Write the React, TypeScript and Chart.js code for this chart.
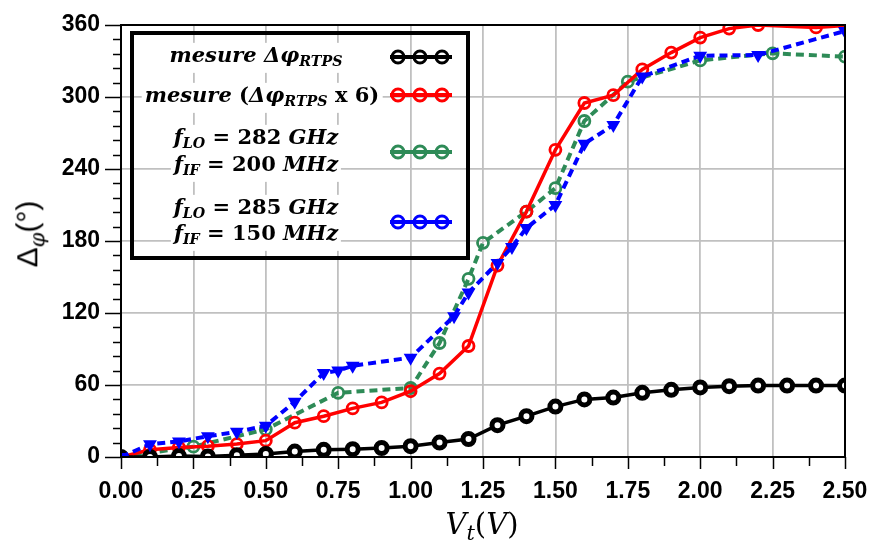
import React, { useEffect, useRef } from "react";
import { Chart, registerables } from "chart.js";
Chart.register(...registerables);

// ---- data ----
const blackX = [0, 0.1, 0.2, 0.3, 0.4, 0.5, 0.6, 0.7, 0.8, 0.9, 1.0, 1.1, 1.2, 1.3, 1.4, 1.5, 1.6, 1.7, 1.8, 1.9, 2.0, 2.1, 2.2, 2.3, 2.4, 2.5];
const blackY = [0, 0, 0.8, 0.5, 1.5, 2.5, 4.5, 6, 6.5, 7.5, 9, 12, 15, 26.5, 34, 42, 48, 49.5, 53.5, 56, 58, 59, 59.5, 59.5, 59.5, 59.5];

const redX = [0, 0.1, 0.2, 0.3, 0.4, 0.5, 0.6, 0.7, 0.8, 0.9, 1.0, 1.1, 1.2, 1.3, 1.4, 1.5, 1.6, 1.7, 1.8, 1.9, 2.0, 2.1, 2.2, 2.4, 2.5];
const redY = [0, 6, 8, 9, 10.8, 13.6, 28.6, 34, 40.5, 45.5, 54.8, 69.5, 92.5, 159.5, 204.5, 256, 295, 301.5, 323, 337, 349.5, 357, 360, 358, 359.5];

const greenX = [0, 0.25, 0.5, 0.75, 1.0, 1.1, 1.2, 1.25, 1.4, 1.5, 1.6, 1.75, 2.0, 2.25, 2.5];
const greenY = [0, 8.6, 23, 53.5, 57.5, 95, 148.5, 178.5, 204.5, 224, 280, 312.8, 330.5, 336.4, 333.6];

const blueX = [0, 0.1, 0.2, 0.3, 0.4, 0.5, 0.6, 0.7, 0.75, 0.8, 1.0, 1.15, 1.2, 1.3, 1.35, 1.4, 1.5, 1.6, 1.7, 1.8, 2.0, 2.2, 2.5];
const blueY = [0, 10.7, 13, 17.3, 21, 26, 46, 70, 72, 76, 82.8, 117.3, 137, 161.7, 175, 190.8, 210, 261, 276.7, 317, 334.4, 335, 355];

const xMin = 0, xMax = 2.5, xStep = 0.125, xMajor = 0.25;
const yMin = 0, yMax = 360, yStep = 12, yMajor = 60;

const pts = (xs: number[], ys: number[]) => xs.map((x, i) => ({ x, y: ys[i] }));
const isMult = (v: number, m: number) => Math.abs(v / m - Math.round(v / m)) < 1e-6;

const GREEN = "#2e8b57";

const framePlugin = {
  id: "frame",
  afterDraw(chart: any) {
    const { ctx, chartArea: a, scales } = chart;
    ctx.save();
    ctx.strokeStyle = "#000";
    ctx.lineWidth = 2;
    ctx.strokeRect(a.left, a.top, a.right - a.left, a.bottom - a.top);
    ctx.lineWidth = 1.5;
    for (const t of scales.y.ticks) {
      const py = Math.round(scales.y.getPixelForValue(t.value)) + 0.5;
      const major = isMult(t.value, yMajor);
      ctx.beginPath();
      ctx.moveTo(a.left, py);
      ctx.lineTo(a.left - (major ? 16 : 8), py);
      ctx.stroke();
    }
    for (const t of scales.x.ticks) {
      const px = Math.round(scales.x.getPixelForValue(t.value)) + 0.5;
      const major = isMult(t.value, xMajor);
      ctx.beginPath();
      ctx.moveTo(px, a.bottom);
      ctx.lineTo(px, a.bottom + (major ? 12 : 9));
      ctx.stroke();
    }
    ctx.restore();
  },
};

function LegendMark({ color, y }: { color: string; y: number }) {
  return (
    <svg style={{ position: "absolute", left: 388, top: y - 9, overflow: "visible" }} width={66} height={18}>
      <line x1={2} y1={9} x2={64} y2={9} stroke={color} strokeWidth={4} />
      {[10, 32, 54].map((cx) => (
        <circle key={cx} cx={cx} cy={9} r={6} fill="none" stroke={color} strokeWidth={3} />
      ))}
    </svg>
  );
}

const legFont: React.CSSProperties = {
  position: "absolute",
  fontFamily: "'DejaVu Serif', serif",
  fontWeight: "bold",
  fontStyle: "italic",
  fontSize: 21,
  lineHeight: "24px",
  whiteSpace: "nowrap",
  transform: "translate(-50%, -50%)",
  background: "#fff",
  padding: "0 3px",
  color: "#000",
};
const sub: React.CSSProperties = { fontSize: "0.68em", verticalAlign: "-0.3em" };
const up: React.CSSProperties = { fontStyle: "normal" };

export default function App() {
  const ref = useRef<HTMLCanvasElement>(null);
  useEffect(() => {
    document.body.style.margin = "0";
    const mk = (label: string, xs: number[], ys: number[], color: string, extra: any) => ({
      label,
      data: pts(xs, ys),
      borderColor: color,
      pointBorderColor: color,
      ...extra,
    });
    const zeroPad = (s: any) => {
      s.paddingLeft = 0;
      s.paddingRight = 0;
      s.paddingTop = 0;
      s.paddingBottom = 0;
    };
    const tickFont = { family: "'Liberation Sans', Arial, sans-serif", weight: "bold" as const, size: 23 };
    const chart = new Chart(ref.current!, {
      type: "line",
      data: {
        datasets: [
          mk("blue", blueX, blueY, "#0000ff", {
            borderWidth: 4, borderDash: [8, 5], pointStyle: "triangle", rotation: 180,
            pointRadius: 5.5, pointBorderWidth: 2.5, pointBackgroundColor: "#0000ff",
          }),
          mk("black", blackX, blackY, "#000", {
            borderWidth: 3.5, pointStyle: "circle", pointRadius: 5.5,
            pointBorderWidth: 5, pointBackgroundColor: "#fff",
          }),
          mk("red", redX, redY, "#ff0000", {
            borderWidth: 3.5, pointStyle: "circle", pointRadius: 5.5,
            pointBorderWidth: 2.8, pointBackgroundColor: "rgba(0,0,0,0)",
          }),
          mk("green", greenX, greenY, GREEN, {
            borderWidth: 4, borderDash: [8, 5], pointStyle: "circle", pointRadius: 5.5,
            pointBorderWidth: 2.8, pointBackgroundColor: "rgba(0,0,0,0)",
          }),
        ],
      },
      options: {
        responsive: false,
        animation: false,
        devicePixelRatio: 1,
        layout: { padding: { left: 0, right: 27, top: 25, bottom: 0 } },
        plugins: { legend: { display: false }, tooltip: { enabled: false } },
        elements: { line: { tension: 0 } },
        scales: {
          x: {
            type: "linear",
            min: xMin,
            max: xMax,
            afterFit: (s: any) => { s.height = 89; zeroPad(s); },
            afterBuildTicks: (s: any) => {
              const t = [];
              for (let v = xMin; v <= xMax + 1e-9; v += xStep) t.push({ value: v });
              s.ticks = t;
            },
            ticks: {
              autoSkip: false,
              maxRotation: 0,
              padding: 21,
              color: "#000",
              font: tickFont,
              callback: (v: any) => (isMult(Number(v), xMajor) ? Number(v).toFixed(2) : ""),
            },
            grid: {
              drawTicks: false,
              lineWidth: 1.8,
              color: (c: any) => (c.tick && isMult(c.tick.value, xMajor) ? "#c0c0c0" : "rgba(0,0,0,0)"),
            },
            border: { display: true, color: "#000", width: 2 },
          },
          y: {
            type: "linear",
            min: yMin,
            max: yMax,
            afterFit: (s: any) => { s.width = 121; zeroPad(s); },
            afterBuildTicks: (s: any) => {
              const t = [];
              for (let v = yMin; v <= yMax + 1e-9; v += yStep) t.push({ value: v });
              s.ticks = t;
            },
            ticks: {
              autoSkip: false,
              padding: 21,
              color: "#000",
              font: tickFont,
              callback: (v: any) => (isMult(Number(v), yMajor) ? String(v) : ""),
            },
            grid: {
              drawTicks: false,
              lineWidth: 1.8,
              color: (c: any) => (c.tick && isMult(c.tick.value, yMajor) ? "#c0c0c0" : "rgba(0,0,0,0)"),
            },
            border: { display: true, color: "#000", width: 2 },
          },
        },
      },
      plugins: [framePlugin],
    });
    return () => chart.destroy();
  }, []);

  return (
    <div style={{ position: "relative", width: 872, height: 546, background: "#fff", overflow: "hidden" }}>
      <canvas ref={ref} width={872} height={546} style={{ position: "absolute", left: 0, top: 0 }} />
      {/* legend box */}
      <div style={{ position: "absolute", left: 130, top: 31, width: 332, height: 221, border: "4px solid #000" }} />
      <div style={{ ...legFont, left: 256, top: 58 }}>
        mesure Δφ<span style={sub}>RTPS</span>
      </div>
      <div style={{ ...legFont, left: 262, top: 98 }}>
        mesure <span style={up}>(</span>Δφ<span style={sub}>RTPS</span> <span style={up}>x 6)</span>
      </div>
      <div style={{ ...legFont, left: 256, top: 140 }}>
        f<span style={sub}>LO</span> <span style={up}>= 282</span> GHz
      </div>
      <div style={{ ...legFont, left: 256, top: 167 }}>
        f<span style={sub}>IF</span> <span style={up}>= 200</span> MHz
      </div>
      <div style={{ ...legFont, left: 256, top: 210 }}>
        f<span style={sub}>LO</span> <span style={up}>= 285</span> GHz
      </div>
      <div style={{ ...legFont, left: 256, top: 236 }}>
        f<span style={sub}>IF</span> <span style={up}>= 150</span> MHz
      </div>
      <LegendMark color="#000" y={57} />
      <LegendMark color="#ff0000" y={95} />
      <LegendMark color={GREEN} y={152} />
      <LegendMark color="#0000ff" y={222} />
      {/* y title */}
      <div
        style={{
          position: "absolute", left: 30, top: 234, transform: "translate(-50%, -50%) rotate(-90deg)",
          fontFamily: "'Liberation Sans', Arial, sans-serif", fontSize: 30, whiteSpace: "nowrap", color: "#000",
        }}
      >
        Δ<span style={{ fontStyle: "italic", fontFamily: "'DejaVu Serif', serif", fontSize: "0.7em", verticalAlign: "-0.35em" }}>φ</span>(°)
      </div>
      {/* x title */}
      <div
        style={{
          position: "absolute", left: 482, top: 526, transform: "translate(-50%, -50%)",
          fontFamily: "'DejaVu Serif', serif", fontSize: 29, whiteSpace: "nowrap", color: "#000",
        }}
      >
        <i>V</i><i style={{ fontSize: "0.72em", verticalAlign: "-0.3em" }}>t</i>(<i>V</i>)
      </div>
    </div>
  );
}
